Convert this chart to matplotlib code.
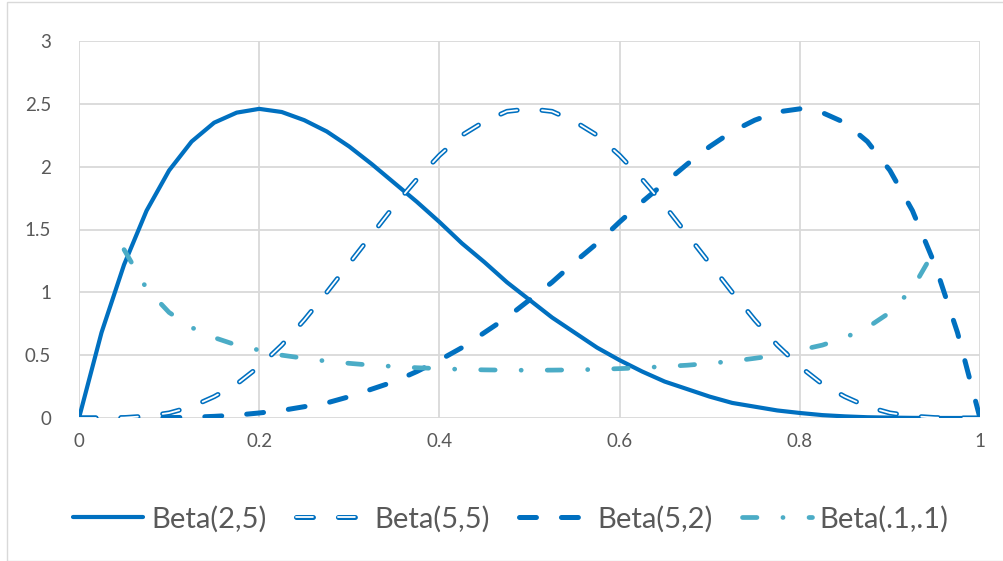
import numpy as np
import matplotlib.pyplot as plt
from matplotlib.patches import Rectangle

plt.rcParams['font.family'] = ['Lato', 'DejaVu Sans']
plt.rcParams['lines.scale_dashes'] = False

# values, every 0.025
x = [0, 0.025, 0.05, 0.075, 0.1, 0.125, 0.15, 0.175, 0.2, 0.225, 0.25,
     0.275, 0.3, 0.325, 0.35, 0.375, 0.4, 0.425, 0.45, 0.475, 0.5,
     0.525, 0.55, 0.575, 0.6, 0.625, 0.65, 0.675, 0.7, 0.725, 0.75,
     0.775, 0.8, 0.825, 0.85, 0.875, 0.9, 0.925, 0.95, 0.975, 1]
beta_2_5 = [0, 0.68, 1.22, 1.65, 1.97, 2.2, 2.35, 2.43, 2.46, 2.435, 2.37,
            2.28, 2.16, 2.02, 1.87, 1.72, 1.56, 1.39, 1.24, 1.08, 0.94,
            0.8, 0.68, 0.56, 0.46, 0.37, 0.29, 0.23, 0.17, 0.12, 0.09,
            0.06, 0.04, 0.023, 0.013, 0.006, 0.003, 0.001, 0.0002, 0, 0]
beta_5_5 = [0, 0.0002, 0.003, 0.015, 0.04, 0.09, 0.17, 0.27, 0.41, 0.58, 0.78,
            1.0, 1.23, 1.46, 1.69, 1.9, 2.09, 2.25, 2.36, 2.44, 2.46,
            2.44, 2.36, 2.25, 2.09, 1.9, 1.69, 1.46, 1.23, 1.0, 0.78,
            0.58, 0.41, 0.27, 0.17, 0.09, 0.04, 0.015, 0.003, 0.0002, 0]
beta_5_2 = beta_2_5[::-1]
x_01 = [0.05, 0.075, 0.1, 0.125, 0.15, 0.175, 0.2, 0.225, 0.25, 0.275, 0.3,
        0.325, 0.35, 0.375, 0.4, 0.425, 0.45, 0.475, 0.5, 0.525, 0.55,
        0.575, 0.6, 0.625, 0.65, 0.675, 0.7, 0.725, 0.75, 0.775, 0.8,
        0.825, 0.85, 0.875, 0.9, 0.925, 0.95]
beta_01 = [1.34, 1.03, 0.84, 0.72, 0.64, 0.58, 0.54, 0.5, 0.475, 0.452, 0.435,
           0.42, 0.41, 0.4, 0.393, 0.387, 0.383, 0.381, 0.38, 0.381, 0.383,
           0.387, 0.393, 0.4, 0.41, 0.42, 0.435, 0.452, 0.475, 0.5, 0.54,
           0.58, 0.64, 0.72, 0.84, 1.03, 1.34]

blue = '#0070C0'
aqua = '#4BACC6'

fig = plt.figure(figsize=(10.04, 5.61), dpi=100)
fig.patches.append(Rectangle((7.5 / 1004, 0.5 / 561), 1.0, 559 / 561, transform=fig.transFigure,
                             fill=False, edgecolor='#D9D9D9', lw=1))
ax = fig.add_axes([79 / 1004, 1 - 418 / 561, 901 / 1004, 377 / 561])

l1, = ax.plot(x, beta_2_5, color=blue, lw=3, solid_capstyle='round',
              solid_joinstyle='round', label='Beta(2,5)')

l2a, = ax.plot(x, beta_5_5, color=blue, lw=3.6, dash_capstyle='round',
               dashes=(12.2, 18), zorder=3)
l2b, = ax.plot(x, beta_5_5, color='white', lw=1.3, dash_capstyle='round',
               dashes=(12.2, 18), zorder=3.1)

l3, = ax.plot(x, beta_5_2, color=blue, lw=3.6, dash_capstyle='round',
              dashes=(12.2, 18), label='Beta(5,2)')

l4, = ax.plot(x_01, beta_01, color=aqua, lw=3.4, dash_capstyle='round',
              dashes=(10.4, 18.7, 0.1, 18.7), label='Beta(.1,.1)')

ax.set_xlim(0, 1)
ax.set_ylim(0, 3)
ax.set_xticks(np.arange(0, 1.01, 0.2))
ax.set_xticklabels(['0', '0.2', '0.4', '0.6', '0.8', '1'])
ax.set_yticks(np.arange(0, 3.01, 0.5))
ax.set_yticklabels(['0', '0.5', '1', '1.5', '2', '2.5', '3'])
ax.grid(True, color='#D9D9D9', lw=1.3)
ax.set_axisbelow(True)
for s in ax.spines.values():
    s.set_visible(False)
ax.tick_params(length=0, labelsize=13.5, labelcolor='#595959')
ax.tick_params(axis='y', pad=20)
ax.tick_params(axis='x', pad=11)

leg = fig.legend([l1, (l2a, l2b), l3, l4],
                 ['Beta(2,5)', 'Beta(5,5)', 'Beta(5,2)', 'Beta(.1,.1)'],
                 loc='center', bbox_to_anchor=(511 / 1004, 1 - 519 / 561), ncol=4,
                 frameon=False, fontsize=21, handlelength=2.4, handletextpad=0.28,
                 columnspacing=1.0, labelcolor='#595959')

fig.savefig('out.png', dpi=100)
